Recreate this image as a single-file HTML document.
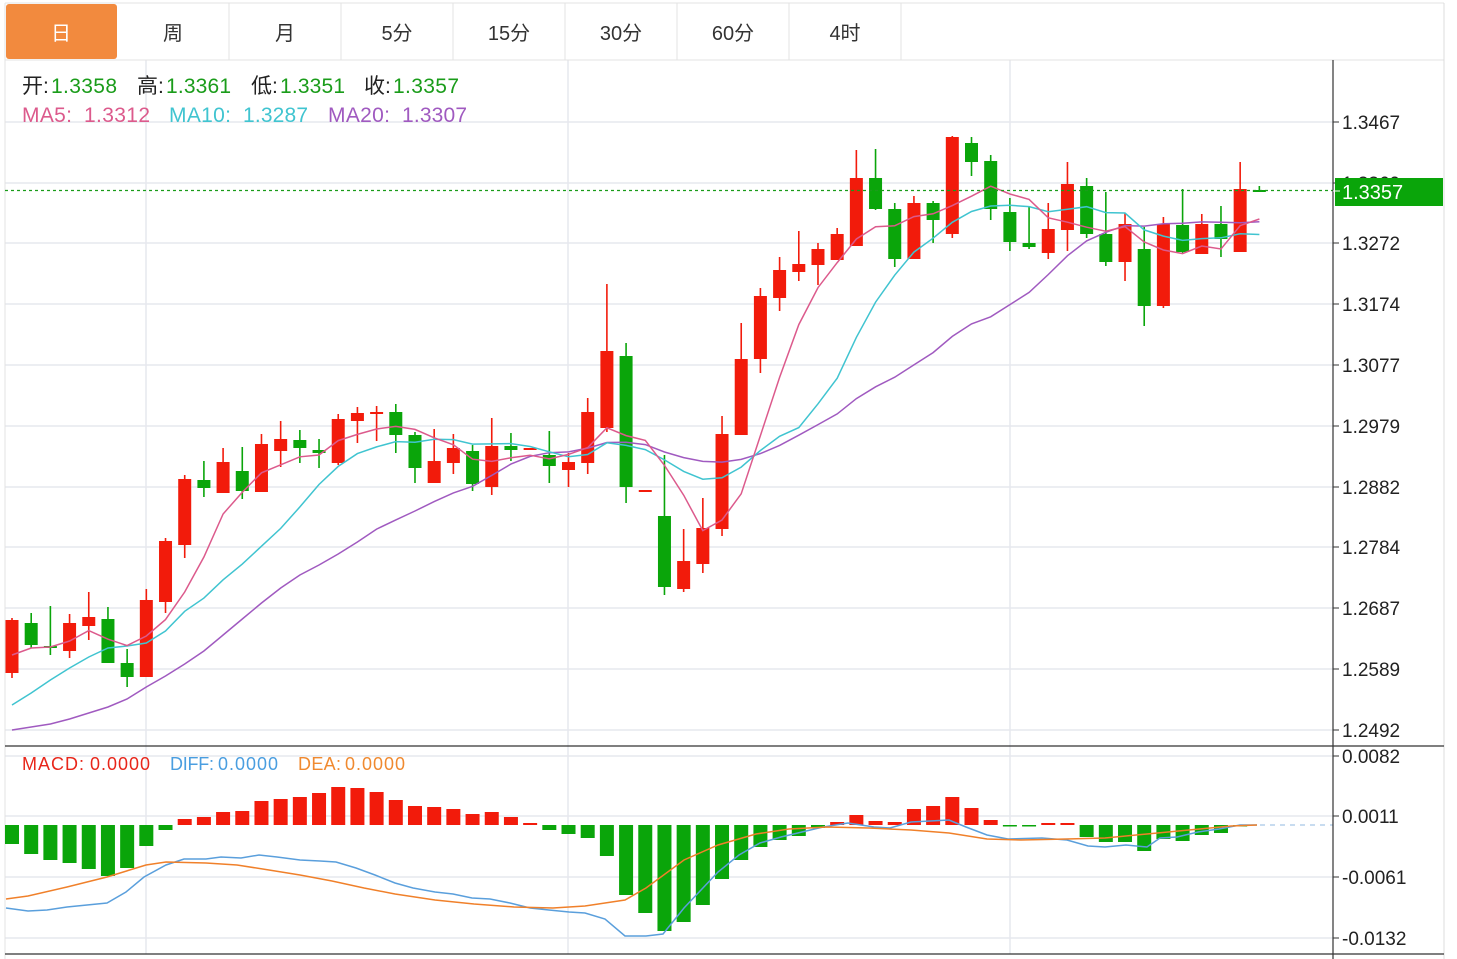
<!DOCTYPE html>
<html><head><meta charset="utf-8">
<style>
html,body{margin:0;padding:0;background:#fff;width:1457px;height:959px;overflow:hidden}
svg{display:block}
text{font-family:"Liberation Sans","Noto Sans CJK SC",sans-serif}
</style></head>
<body>
<svg id="s" width="1457" height="959" xmlns="http://www.w3.org/2000/svg">
<rect x="0" y="0" width="1457" height="959" fill="#fff"/>
<g id="grid" stroke="#e6e8ee" stroke-width="1.5" fill="none">
 <line x1="5" y1="122" x2="1333" y2="122"/><line x1="5" y1="183" x2="1333" y2="183"/>
 <line x1="5" y1="243" x2="1333" y2="243"/><line x1="5" y1="304" x2="1333" y2="304"/>
 <line x1="5" y1="365" x2="1333" y2="365"/><line x1="5" y1="426" x2="1333" y2="426"/>
 <line x1="5" y1="487" x2="1333" y2="487"/><line x1="5" y1="547" x2="1333" y2="547"/>
 <line x1="5" y1="608" x2="1333" y2="608"/><line x1="5" y1="669" x2="1333" y2="669"/>
 <line x1="5" y1="730" x2="1333" y2="730"/>
 <line x1="5" y1="756" x2="1333" y2="756"/><line x1="5" y1="816" x2="1333" y2="816"/>
 <line x1="5" y1="877" x2="1333" y2="877"/><line x1="5" y1="938" x2="1333" y2="938"/>
 <line x1="146" y1="60" x2="146" y2="954"/><line x1="568" y1="60" x2="568" y2="954"/>
 <line x1="1010" y1="60" x2="1010" y2="954"/>
</g>
<g>
 <line x1="5" y1="3" x2="1444" y2="3" stroke="#e3e3e3"/>
 <line x1="5" y1="60" x2="1444" y2="60" stroke="#e3e3e3"/>
 <line x1="5" y1="3" x2="5" y2="959" stroke="#e3e3e3"/>
 <line x1="1444" y1="3" x2="1444" y2="959" stroke="#dcdcdc"/>
 <rect x="6" y="4" width="111" height="55" rx="3" fill="#f28a3e"/>
 <g stroke="#e3e3e3"><line x1="229" y1="3" x2="229" y2="60"/><line x1="341" y1="3" x2="341" y2="60"/><line x1="453" y1="3" x2="453" y2="60"/><line x1="565" y1="3" x2="565" y2="60"/><line x1="677" y1="3" x2="677" y2="60"/><line x1="789" y1="3" x2="789" y2="60"/><line x1="901" y1="3" x2="901" y2="60"/></g>
 <g font-size="20" text-anchor="middle" fill="#333">
  <text x="61" y="40" fill="#fff">日</text><text x="173" y="40">周</text><text x="285" y="40">月</text>
  <text x="397" y="40">5分</text><text x="509" y="40">15分</text><text x="621" y="40">30分</text>
  <text x="733" y="40">60分</text><text x="845" y="40">4时</text>
 </g>
</g>
<g id="cnd"></g>
<g id="ma" fill="none" stroke-width="1.5"></g>
<g id="macd"></g>
<line x1="5" y1="190.5" x2="1333" y2="190.5" stroke="#1a9c1a" stroke-width="1.3" stroke-dasharray="3,3"/>
<line x1="1260" y1="825" x2="1333" y2="825" stroke="#a8c8e8" stroke-width="1.3" stroke-dasharray="5,5"/>
<line x1="1333" y1="60" x2="1333" y2="959" stroke="#333" stroke-width="1.2"/>
<line x1="5" y1="746" x2="1444" y2="746" stroke="#333" stroke-width="1.2"/>
<line x1="5" y1="954" x2="1444" y2="954" stroke="#333" stroke-width="1.2"/>
<g font-size="19" fill="#222" id="ticks"></g>
<rect x="1335" y="178" width="108" height="28" fill="#0aa50a"/>
<line x1="1333" y1="191" x2="1340" y2="191" stroke="#fff"/>
<text x="1342" y="199" font-size="20" fill="#fff">1.3357</text>
<g font-size="21">
 <text y="93"><tspan x="22" fill="#222">开:</tspan><tspan x="51" fill="#1a9c1a" textLength="66">1.3358</tspan><tspan x="137" fill="#222">高:</tspan><tspan x="166" fill="#1a9c1a" textLength="65">1.3361</tspan><tspan x="251" fill="#222">低:</tspan><tspan x="280" fill="#1a9c1a" textLength="65">1.3351</tspan><tspan x="364" fill="#222">收:</tspan><tspan x="393" fill="#1a9c1a" textLength="66">1.3357</tspan></text>
 <text y="122"><tspan x="22" fill="#dc5a8c" textLength="50">MA5:</tspan><tspan x="84" fill="#dc5a8c" textLength="66">1.3312</tspan><tspan x="169" fill="#40c4d0" textLength="62">MA10:</tspan><tspan x="243" fill="#40c4d0" textLength="65">1.3287</tspan><tspan x="328" fill="#a05ac0" textLength="62">MA20:</tspan><tspan x="402" fill="#a05ac0" textLength="65">1.3307</tspan></text>
</g>
<g font-size="18">
 <text y="770"><tspan x="22" fill="#e8261a" textLength="62">MACD:</tspan><tspan x="90" fill="#e8261a" textLength="60">0.0000</tspan><tspan x="170" fill="#4a9ee0" textLength="44">DIFF:</tspan><tspan x="218" fill="#4a9ee0" textLength="60">0.0000</tspan><tspan x="298" fill="#f08a30" textLength="43">DEA:</tspan><tspan x="345" fill="#f08a30" textLength="60">0.0000</tspan></text>
</g>
</svg>
<script>
var NS="http://www.w3.org/2000/svg";
function el(p,t,a){var e=document.createElementNS(NS,t);for(var k in a)e.setAttribute(k,a[k]);p.appendChild(e);return e;}
var R="#f21b0b",G="#0aa50a";
var C=[[620,673,618,678,1],[623,645,613,648,0],[646,648,606,655,0],[623,651,614,658,1],[617,626,592,640,1],[619,663,607,663,0],[663,677,649,687,0],[600,677,589,677,1],[541,602,538,613,1],[479,545,475,558,1],[480,488,461,497,0],[462,493,448,493,1],[471,491,447,499,0],[444,492,434,492,1],[439,451,421,467,1],[440,448,430,463,0],[450,453,439,468,0],[419,463,414,465,1],[413,421,407,443,1],[412,414,406,441,1],[412,435,404,453,0],[435,468,432,483,0],[461,483,429,483,1],[448,463,434,474,1],[451,484,445,491,0],[446,487,418,495,1],[446,450,433,461,0],[448,449,448,449,1],[455,466,431,483,0],[462,470,453,487,1],[412,463,398,474,1],[351,428,284,432,1],[356,487,343,503,0],[490,491,490,491,1],[516,587,455,595,0],[561,589,529,592,1],[528,564,498,573,1],[434,529,416,536,1],[359,435,323,435,1],[296,359,288,373,1],[270,298,257,311,1],[264,272,231,281,1],[249,265,243,285,1],[234,260,228,260,1],[178,246,150,246,1],[178,209,149,210,0],[209,259,203,267,0],[203,259,196,259,1],[203,220,201,243,0],[137,234,136,238,1],[143,162,137,176,0],[161,209,155,220,0],[212,242,198,251,0],[243,247,207,249,0],[229,253,203,259,1],[184,230,162,251,1],[186,234,178,238,0],[234,262,192,266,0],[224,262,213,281,1],[249,306,227,326,0],[224,306,217,308,1],[225,252,189,254,0],[224,254,214,254,1],[224,239,206,257,0],[189,252,162,252,1],[190,191,186,192,0]];
function X(i){return 12+19.19*i;}
var cg=document.getElementById("cnd");
var closes=[];
C.forEach(function(c,i){var x=X(i),col=c[4]?R:G;
 closes.push(c[4]?c[0]:c[1]);
 el(cg,"line",{x1:x,y1:c[2],x2:x,y2:c[3],stroke:col,"stroke-width":1.6});
 var h=Math.max(2,c[1]-c[0]);
 el(cg,"rect",{x:x-6.5,y:c[0],width:13,height:h,fill:col});
});
function ma(n,early){var pts=[];for(var i=0;i<closes.length;i++){var v;if(i<n-1){v=early[i];}else{var s=0;for(var j=i-n+1;j<=i;j++)s+=closes[j];v=s/n;}pts.push(X(i).toFixed(1)+","+v.toFixed(1));}return pts.join(" ");}
var mg=document.getElementById("ma");
el(mg,"polyline",{points:ma(20,[730,727,724,719,713,707,699,687,676,664,651,635,619,603,588,575,565,554,542]),stroke:"#a05ac0"});
el(mg,"polyline",{points:ma(10,[705,693,680,668,657,648,646,643,631]),stroke:"#40c4d0"});
el(mg,"polyline",{points:ma(5,[655,648,647,641]),stroke:"#dc5a8c"});
var M=[844,854,860,863,869,876,868,846,830,819,817,812,811,801,799,797,793,787,788,792,800,806,807,809,814,812,817,823,830,834,838,856,895,913,931,922,905,879,860,847,840,836,828,822,815,821,822,809,806,797,808,820,826,826,823,823,837,842,842,851,839,841,835,833,826];
var mg2=document.getElementById("macd"),Z=825;
M.forEach(function(v,i){var x=X(i);var col=v<Z?R:G;var y=Math.min(v,Z),h=Math.max(1.5,Math.abs(v-Z));el(mg2,"rect",{x:x-7,y:y,width:14,height:h,fill:col});});
var dif="6,908 28,911 47,910 67,907 107,903 126,892 144,877 166,865 184,859 206,859 221,857 241,858 259,855 277,857 300,860 320,861 336,862 356,868 375,875 395,883 413,888 435,892 453,894 472,898 490,899 510,903 530,908 549,910 569,912 585,913 605,919 625,936 646,936 663,934 684,908 718,872 739,855 760,843 781,837 802,832 823,827 848,823 874,827 890,828 911,822 949,820 966,827 987,835 1008,839 1042,838 1067,840 1088,846 1105,847 1126,845 1147,847 1160,838 1177,837 1198,832 1219,829 1240,825 1257,825";
var dea="6,899 28,896 67,887 107,877 146,865 166,862 206,863 237,865 269,870 300,875 332,881 364,888 395,894 435,900 474,904 514,907 553,908 585,906 605,903 625,900 646,888 684,860 718,845 756,834 789,829 827,827 869,828 911,830 949,833 987,839 1021,840 1067,839 1105,838 1147,834 1189,830 1231,826 1257,825";
el(mg2,"polyline",{points:dif,fill:"none",stroke:"#5a9fdc","stroke-width":1.5});
el(mg2,"polyline",{points:dea,fill:"none",stroke:"#f0802a","stroke-width":1.5});
var tg=document.getElementById("ticks");
[[122,"1.3467"],[183,"1.3369"],[243,"1.3272"],[304,"1.3174"],[365,"1.3077"],[426,"1.2979"],[487,"1.2882"],[547,"1.2784"],[608,"1.2687"],[669,"1.2589"],[730,"1.2492"],[756,"0.0082"],[816,"0.0011"],[877,"-0.0061"],[938,"-0.0132"],[966,"-137.0075"]].forEach(function(t){
 el(tg,"line",{x1:1333,y1:t[0],x2:1339,y2:t[0],stroke:"#333"});
 var e=el(tg,"text",{x:1342,y:t[0]+7});e.textContent=t[1];});
</script>
</body></html>
